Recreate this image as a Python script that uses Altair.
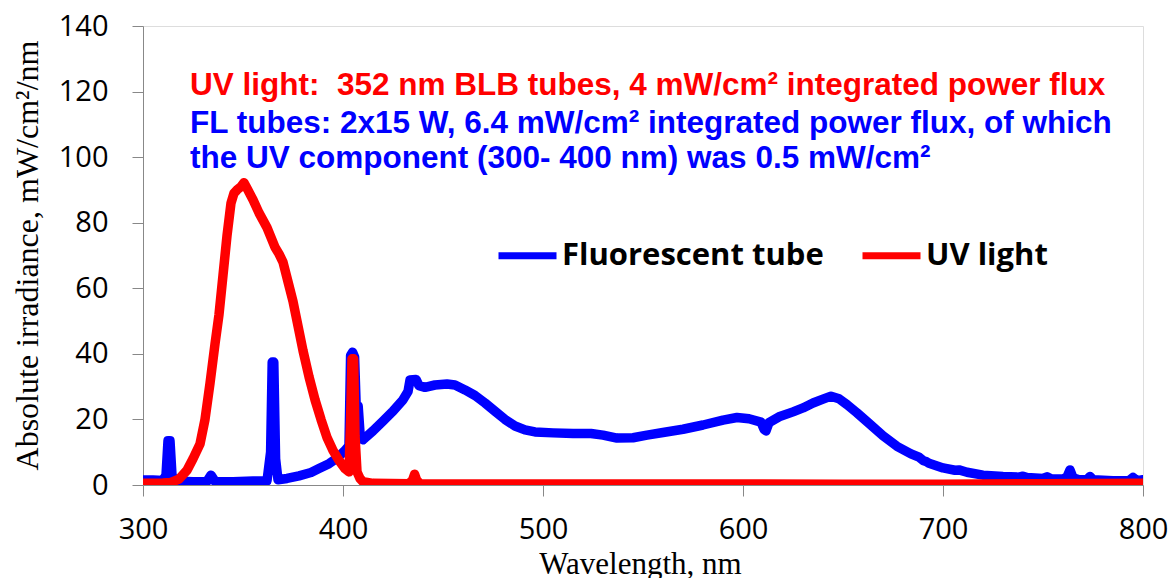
import altair as alt
import pandas as pd

# ---- data ----
fl_wavelength = [300, 305, 310, 311.5, 312.5, 313.5, 314.5, 316, 325, 332, 334, 336, 345, 355, 362,
                 363.8, 364.6, 365.4, 366.3, 367.5, 372, 378, 384, 388, 393, 397, 401, 403,
                 403.8, 404.8, 405.8, 406.6, 407.6, 408.6, 410, 415, 420, 425, 430, 432.5, 433.5,
                 436.5, 438, 441, 446, 452, 456, 461, 466, 471, 476, 481, 486, 491, 496, 505, 515,
                 524, 530, 537, 545, 552, 560, 570, 580, 590, 597, 603, 609, 610.5, 611.5, 613, 618,
                 625, 630, 635, 640, 644, 648, 652, 657, 663, 670, 677, 684, 688, 690, 691.5, 693,
                 700, 706, 708, 712, 720, 730, 738, 740, 742, 750, 752, 754, 760, 762, 763.5, 765,
                 768, 772, 773.5, 775, 785, 793, 795, 797, 800]
fl_irradiance = [1.5, 1.5, 1.4, 3, 13.5, 13.5, 3, 1.2, 1.0, 1.1, 3.0, 1.1, 1.0, 1.2, 1.3,
                 10, 37.5, 37.5, 8, 1.6, 2.0, 2.8, 3.8, 5.0, 6.5, 8.2, 10.5, 12,
                 39.5, 40.5, 39, 24, 24, 15, 13.8, 16.5, 19.5, 22.5, 26, 28.5, 32,
                 32.2, 30.3, 29.8, 30.5, 30.8, 30.5, 29, 27.3, 25, 22.5, 20, 18, 16.8, 16.2, 15.9, 15.7,
                 15.7, 15.2, 14.3, 14.4, 15.2, 16.0, 17, 18.3, 19.8, 20.6, 20.2, 19.2, 17, 16.5, 19, 20.8,
                 22.3, 23.5, 25, 26.2, 27.1, 26.3, 24.5, 22, 18.8, 15, 11.8, 9.5, 8.5, 7.5, 7.2, 6.6,
                 5.2, 4.5, 4.6, 3.9, 3.0, 2.6, 2.4, 2.7, 2.3, 2.0, 2.5, 1.9, 1.8, 2.5, 4.6, 2.2,
                 1.6, 1.6, 2.6, 1.6, 1.3, 1.3, 2.3, 1.3, 1.6]

uv_wavelength = [300, 305, 310, 314, 318, 322, 325, 328.5, 331, 333.5, 336, 338, 340, 342, 344, 345.5,
                 347, 349, 350.5, 352, 355, 358, 362, 366, 368, 370, 372.5, 375, 378, 380, 383, 386,
                 389, 392, 395, 398, 401, 403, 403.8, 404.5, 405.3, 406, 407, 408.5, 410, 415, 433,
                 434.8, 435.8, 436.8, 438.5, 500, 600, 650, 700, 750, 800]
uv_irradiance = [0.5, 0.5, 0.6, 0.8, 1.8, 4.5, 8, 12.5, 20, 31, 43, 52, 64, 76, 86, 89,
                 90, 91, 92.2, 90.5, 87, 83, 78.5, 72.5, 70.5, 68, 62, 56, 47, 41, 33, 26,
                 20, 14.5, 10.5, 7.5, 5, 4, 20, 38.5, 38.5, 15, 4, 2, 1, 0.5, 0.4,
                 1.5, 3.3, 1.5, 0.4, 0.3, 0.3, 0.2, 0.2, 0.4, 0.5]

series_names = ["Fluorescent tube", "UV light"]
series_colors = ["#0000FF", "#FF0000"]
x_ticks = [300, 400, 500, 600, 700, 800]
y_ticks = [0, 20, 40, 60, 80, 100, 120, 140]

note_uv = "UV light:\u00a0 352 nm BLB tubes, 4 mW/cm\u00b2 integrated power flux"
note_fl1 = "FL tubes: 2x15 W, 6.4 mW/cm\u00b2 integrated power flux, of which"
note_fl2 = "the UV component (300- 400 nm) was 0.5 mW/cm\u00b2"

fl_df = pd.DataFrame({"wl": fl_wavelength, "irr": fl_irradiance, "series": series_names[0]})
uv_df = pd.DataFrame({"wl": uv_wavelength, "irr": uv_irradiance, "series": series_names[1]})

color = alt.Color(
    "series:N",
    scale=alt.Scale(domain=series_names, range=series_colors),
    legend=alt.Legend(
        title=None, orient="none", legendX=352, legendY=197, direction="horizontal",
        symbolType="stroke", symbolSize=3364, symbolStrokeWidth=7,
        labelFont="Open Sans", labelFontSize=31, labelFontWeight="bold", labelColor="black",
        labelOffset=2, columnPadding=24, labelLimit=400,
    ),
)

x = alt.X("wl:Q", scale=alt.Scale(domain=[300, 800], nice=False),
          axis=alt.Axis(values=x_ticks, title="Wavelength, nm", grid=False, labelFlush=False,
                        titleFont="Liberation Serif", titleFontSize=31, titleFontWeight="normal",
                        titleColor="black", titleX=497, titleY=64, titleBaseline="top",
                        titleAlign="center",
                        labelFont="Open Sans", labelFontSize=29, labelColor="black",
                        labelPadding=19, tickSize=11))
y = alt.Y("irr:Q", scale=alt.Scale(domain=[0, 140], nice=False),
          axis=alt.Axis(values=y_ticks, title="Absolute irradiance, mW/cm\u00b2/nm", grid=False,
                        labelFlush=False,
                        titleFont="Liberation Serif", titleFontSize=32, titleFontWeight="normal",
                        titleColor="black", titleX=-106, titleY=229, titleAngle=270,
                        titleBaseline="alphabetic", titleAlign="center",
                        labelFont="Open Sans", labelFontSize=29, labelColor="black",
                        labelPadding=24, tickSize=11))

line_kw = dict(strokeWidth=9.5, strokeCap="round", strokeJoin="round", clip=True)
fl_line = alt.Chart(fl_df).mark_line(**line_kw).encode(x=x, y=y, color=color)
uv_line = alt.Chart(uv_df).mark_line(**line_kw).encode(x=x, y=y, color=color)


def note(text, col, ypix):
    return alt.Chart(pd.DataFrame({"t": [text]})).mark_text(
        align="left", baseline="alphabetic", font="Liberation Sans", fontSize=31.5,
        fontWeight="bold", color=col
    ).encode(text="t:N", x=alt.value(47), y=alt.value(ypix))


chart = alt.layer(
    fl_line, uv_line,
    note(note_uv, "#FF0000", 69),
    note(note_fl1, "#0000FF", 107),
    note(note_fl2, "#0000FF", 142),
).properties(
    width=1000, height=459,
    autosize=alt.AutoSizeParams(type="none"),
    padding={"left": 143, "top": 26, "right": 33, "bottom": 93},
).configure_view(
    stroke="black", strokeWidth=2
).configure_axis(
    domainColor="#868686", domainWidth=2, tickColor="#868686", tickWidth=2
).configure(background="white")

chart.save("out.html", embed_options={"renderer": "svg", "actions": False})
